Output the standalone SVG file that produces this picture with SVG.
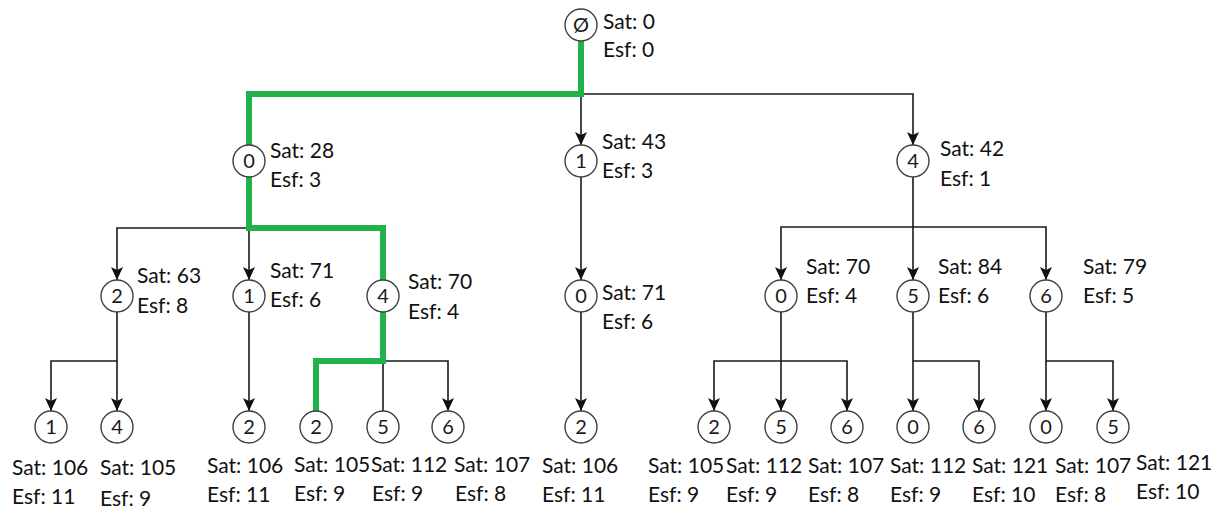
<svg xmlns="http://www.w3.org/2000/svg" width="1219" height="511" viewBox="0 0 1219 511">
  <style>
    .bg { fill: #ffffff; }
    .node circle { fill: #ffffff; stroke: #404040; stroke-width: 1.4; }
    .node .id { font-family: Lato, "Liberation Sans", sans-serif; font-size: 20px; fill: #1a1a1a; text-anchor: middle; }
    .node .lbl { font-family: Lato, "Liberation Sans", sans-serif; font-size: 21px; fill: #111111; }
    .edge { fill: none; stroke: #1a1a1a; stroke-width: 1.6; }
    .path { fill: none; stroke: #22b24c; stroke-width: 6; stroke-linejoin: miter; stroke-linecap: butt; }
  </style>
  <defs>
    <marker id="arrow" viewBox="0 0 13 13" refX="13" refY="6.5" markerWidth="13" markerHeight="13" markerUnits="userSpaceOnUse" orient="auto">
      <path d="M0,0.5 L13,6.5 L0,12.5 L3,6.5 Z" fill="#111111"/>
    </marker>
  </defs>
  <rect class="bg" x="0" y="0" width="1219" height="511"/>

  <!-- tree connectors -->
  <g id="connectors">
    <path class="edge" d="M581,94 H913 V145" marker-end="url(#arrow)"/>
    <path class="edge" d="M581,94 V145" marker-end="url(#arrow)"/>
    <path class="edge" d="M249,228 H117 V280" marker-end="url(#arrow)"/>
    <path class="edge" d="M249,228 V280" marker-end="url(#arrow)"/>
    <path class="edge" d="M117,312 V361 H51 V411" marker-end="url(#arrow)"/>
    <path class="edge" d="M117,361 V411" marker-end="url(#arrow)"/>
    <path class="edge" d="M249,312 V411" marker-end="url(#arrow)"/>
    <path class="edge" d="M383,361 H448 V411" marker-end="url(#arrow)"/>
    <path class="edge" d="M383,361 V411"/>
    <path class="edge" d="M581,177 V280" marker-end="url(#arrow)"/>
    <path class="edge" d="M581,312 V411" marker-end="url(#arrow)"/>
    <path class="edge" d="M913,177 V227 H781 V280" marker-end="url(#arrow)"/>
    <path class="edge" d="M913,227 V280" marker-end="url(#arrow)"/>
    <path class="edge" d="M913,227 H1046 V280" marker-end="url(#arrow)"/>
    <path class="edge" d="M781,312 V361 H714 V411" marker-end="url(#arrow)"/>
    <path class="edge" d="M781,361 V411" marker-end="url(#arrow)"/>
    <path class="edge" d="M781,361 H847 V411" marker-end="url(#arrow)"/>
    <path class="edge" d="M913,312 V361 H979 V411" marker-end="url(#arrow)"/>
    <path class="edge" d="M913,361 V411" marker-end="url(#arrow)"/>
    <path class="edge" d="M1046,312 V361 H1113 V411" marker-end="url(#arrow)"/>
    <path class="edge" d="M1046,361 V411" marker-end="url(#arrow)"/>
    <!-- highlighted route -->
    <path class="path" d="M581,41 V94 H249 V145"/>
    <path class="path" d="M249,177 V228 H383 V280"/>
    <path class="path" d="M383,312 V361 H316 V411"/>
  </g>

  <!-- root -->
  <g id="n-root" class="node">
    <circle cx="581" cy="25" r="16"/>
    <text class="id" x="581" y="32" font-size="17">Ø</text>
    <text class="lbl" x="603" y="29">Sat: 0</text>
    <text class="lbl" x="603" y="57">Esf: 0</text>
  </g>

  <!-- level 1 -->
  <g id="n-0" class="node">
    <circle cx="249" cy="161" r="16"/>
    <text class="id" x="249" y="168">0</text>
    <text class="lbl" x="270" y="158">Sat: 28</text>
    <text class="lbl" x="270" y="187">Esf: 3</text>
  </g>
  <g id="n-1" class="node">
    <circle cx="581" cy="161" r="16"/>
    <text class="id" x="581" y="168">1</text>
    <text class="lbl" x="602" y="149">Sat: 43</text>
    <text class="lbl" x="602" y="178">Esf: 3</text>
  </g>
  <g id="n-4" class="node">
    <circle cx="913" cy="161" r="16"/>
    <text class="id" x="913" y="168">4</text>
    <text class="lbl" x="940" y="156">Sat: 42</text>
    <text class="lbl" x="940" y="186">Esf: 1</text>
  </g>

  <!-- level 2 -->
  <g id="n-0-2" class="node">
    <circle cx="117" cy="296" r="16"/>
    <text class="id" x="117" y="303">2</text>
    <text class="lbl" x="137" y="283">Sat: 63</text>
    <text class="lbl" x="137" y="313">Esf: 8</text>
  </g>
  <g id="n-0-1" class="node">
    <circle cx="249" cy="296" r="16"/>
    <text class="id" x="249" y="303">1</text>
    <text class="lbl" x="270" y="278">Sat: 71</text>
    <text class="lbl" x="270" y="307">Esf: 6</text>
  </g>
  <g id="n-0-4" class="node">
    <circle cx="383" cy="296" r="16"/>
    <text class="id" x="383" y="303">4</text>
    <text class="lbl" x="408" y="289">Sat: 70</text>
    <text class="lbl" x="408" y="319">Esf: 4</text>
  </g>
  <g id="n-1-0" class="node">
    <circle cx="581" cy="296" r="16"/>
    <text class="id" x="581" y="303">0</text>
    <text class="lbl" x="602" y="300">Sat: 71</text>
    <text class="lbl" x="602" y="329">Esf: 6</text>
  </g>
  <g id="n-4-0" class="node">
    <circle cx="781" cy="296" r="16"/>
    <text class="id" x="781" y="303">0</text>
    <text class="lbl" x="806" y="274">Sat: 70</text>
    <text class="lbl" x="806" y="303">Esf: 4</text>
  </g>
  <g id="n-4-5" class="node">
    <circle cx="913" cy="296" r="16"/>
    <text class="id" x="913" y="303">5</text>
    <text class="lbl" x="938" y="274">Sat: 84</text>
    <text class="lbl" x="938" y="303">Esf: 6</text>
  </g>
  <g id="n-4-6" class="node">
    <circle cx="1046" cy="296" r="16"/>
    <text class="id" x="1046" y="303">6</text>
    <text class="lbl" x="1083" y="274">Sat: 79</text>
    <text class="lbl" x="1083" y="303">Esf: 5</text>
  </g>

  <!-- level 3 -->
  <g id="n-0-2-1" class="node">
    <circle cx="51" cy="427" r="16"/>
    <text class="id" x="51" y="434">1</text>
    <text class="lbl" x="12" y="475">Sat: 106</text>
    <text class="lbl" x="12" y="504">Esf: 11</text>
  </g>
  <g id="n-0-2-4" class="node">
    <circle cx="117" cy="427" r="16"/>
    <text class="id" x="117" y="434">4</text>
    <text class="lbl" x="100" y="475">Sat: 105</text>
    <text class="lbl" x="100" y="506">Esf: 9</text>
  </g>
  <g id="n-0-1-2" class="node">
    <circle cx="249" cy="427" r="16"/>
    <text class="id" x="249" y="434">2</text>
    <text class="lbl" x="207" y="473">Sat: 106</text>
    <text class="lbl" x="207" y="502">Esf: 11</text>
  </g>
  <g id="n-0-4-2" class="node">
    <circle cx="316" cy="427" r="16"/>
    <text class="id" x="316" y="434">2</text>
    <text class="lbl" x="294" y="472">Sat: 105</text>
    <text class="lbl" x="294" y="501">Esf: 9</text>
  </g>
  <g id="n-0-4-5" class="node">
    <circle cx="383" cy="427" r="16"/>
    <text class="id" x="383" y="434">5</text>
    <text class="lbl" x="371" y="472">Sat: 112</text>
    <text class="lbl" x="372" y="501">Esf: 9</text>
  </g>
  <g id="n-0-4-6" class="node">
    <circle cx="448" cy="427" r="16"/>
    <text class="id" x="448" y="434">6</text>
    <text class="lbl" x="454" y="472">Sat: 107</text>
    <text class="lbl" x="455" y="501">Esf: 8</text>
  </g>
  <g id="n-1-0-2" class="node">
    <circle cx="581" cy="427" r="16"/>
    <text class="id" x="581" y="434">2</text>
    <text class="lbl" x="542" y="473">Sat: 106</text>
    <text class="lbl" x="542" y="502">Esf: 11</text>
  </g>
  <g id="n-4-0-2" class="node">
    <circle cx="714" cy="427" r="16"/>
    <text class="id" x="714" y="434">2</text>
    <text class="lbl" x="648" y="473">Sat: 105</text>
    <text class="lbl" x="648" y="502">Esf: 9</text>
  </g>
  <g id="n-4-0-5" class="node">
    <circle cx="781" cy="427" r="16"/>
    <text class="id" x="781" y="434">5</text>
    <text class="lbl" x="726" y="473">Sat: 112</text>
    <text class="lbl" x="726" y="502">Esf: 9</text>
  </g>
  <g id="n-4-0-6" class="node">
    <circle cx="847" cy="427" r="16"/>
    <text class="id" x="847" y="434">6</text>
    <text class="lbl" x="808" y="473">Sat: 107</text>
    <text class="lbl" x="808" y="502">Esf: 8</text>
  </g>
  <g id="n-4-5-0" class="node">
    <circle cx="913" cy="427" r="16"/>
    <text class="id" x="913" y="434">0</text>
    <text class="lbl" x="890" y="473">Sat: 112</text>
    <text class="lbl" x="890" y="502">Esf: 9</text>
  </g>
  <g id="n-4-5-6" class="node">
    <circle cx="979" cy="427" r="16"/>
    <text class="id" x="979" y="434">6</text>
    <text class="lbl" x="972" y="473">Sat: 121</text>
    <text class="lbl" x="972" y="502">Esf: 10</text>
  </g>
  <g id="n-4-6-0" class="node">
    <circle cx="1046" cy="427" r="16"/>
    <text class="id" x="1046" y="434">0</text>
    <text class="lbl" x="1055" y="473">Sat: 107</text>
    <text class="lbl" x="1055" y="502">Esf: 8</text>
  </g>
  <g id="n-4-6-5" class="node">
    <circle cx="1113" cy="427" r="16"/>
    <text class="id" x="1113" y="434">5</text>
    <text class="lbl" x="1136" y="470">Sat: 121</text>
    <text class="lbl" x="1136" y="499">Esf: 10</text>
  </g>
</svg>
